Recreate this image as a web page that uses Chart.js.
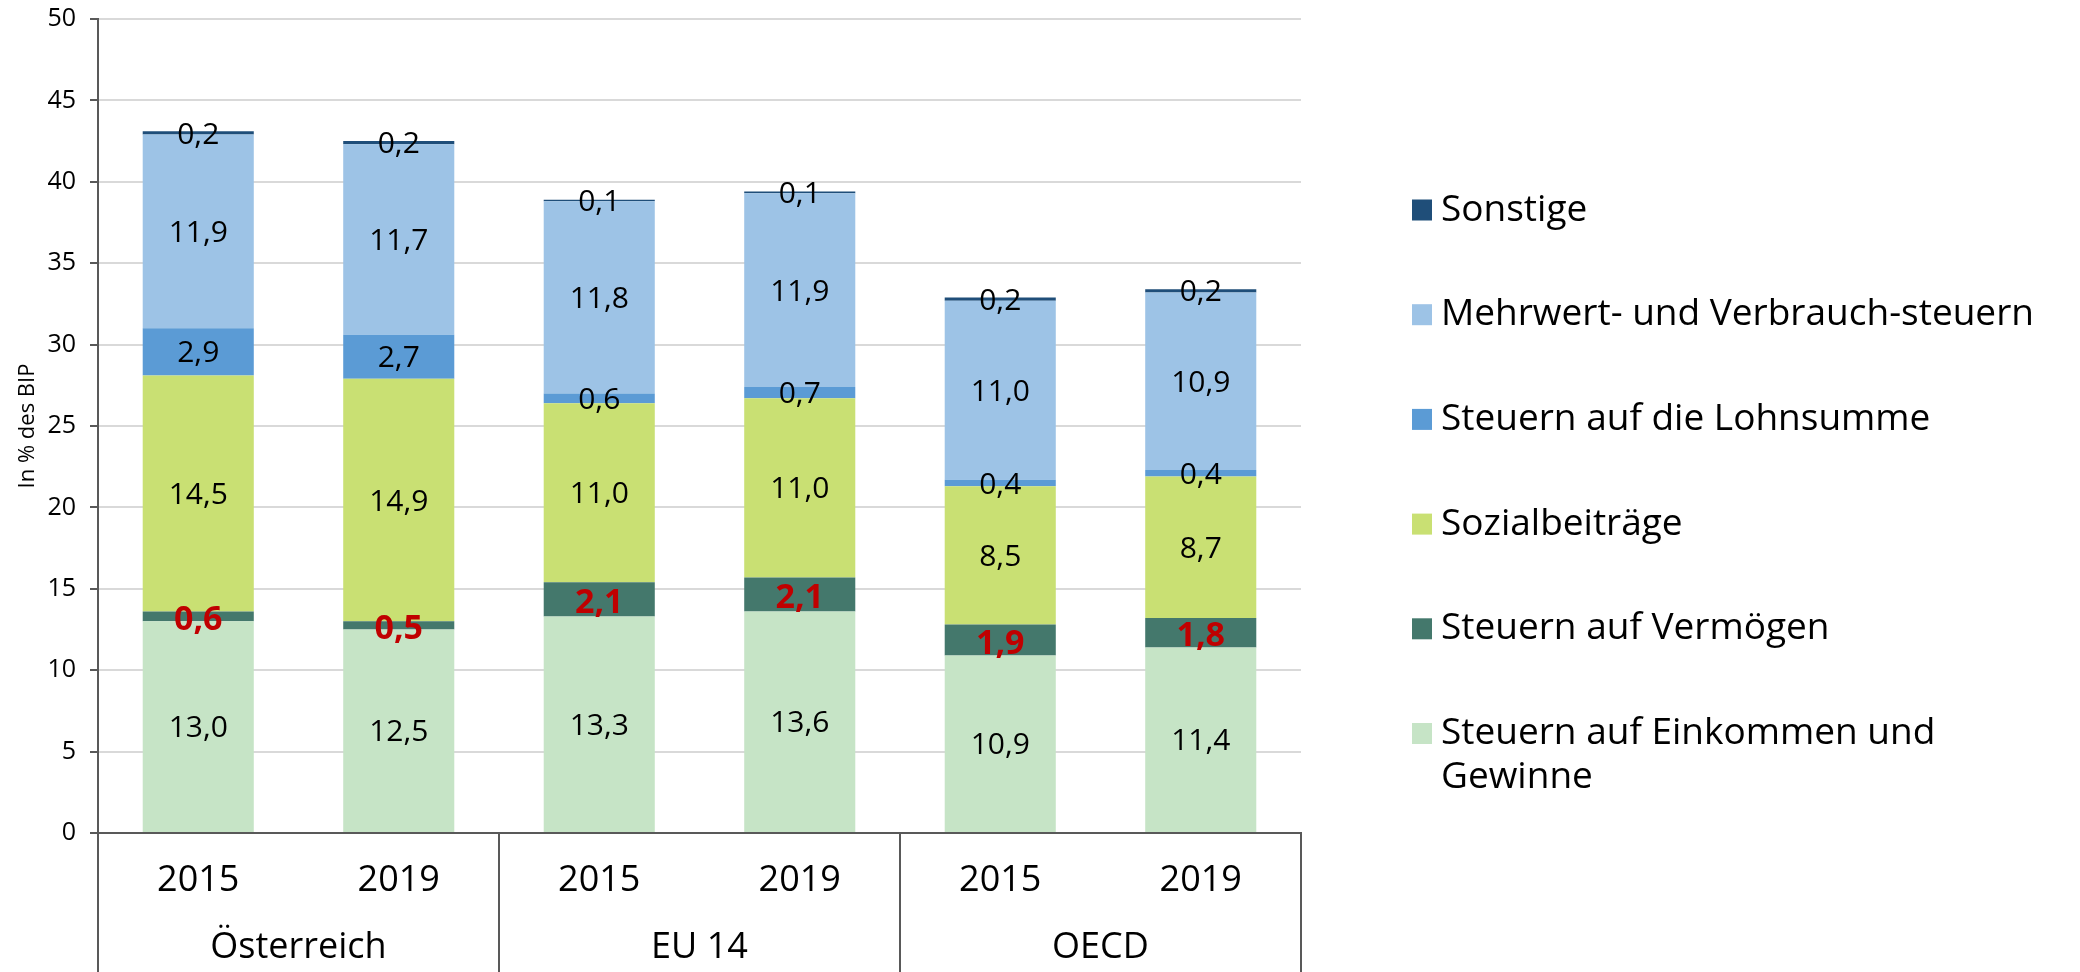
<!DOCTYPE html>
<html>
<head>
<meta charset="utf-8">
<script src="https://cdn.jsdelivr.net/npm/chart.js@4.4.1/dist/chart.umd.min.js"></script>
<style>
  html, body { margin: 0; padding: 0; background: #fff; }
  #wrap { width: 2080px; height: 972px; }
</style>
</head>
<body>
<div id="wrap"><canvas id="chart" width="2080" height="972"></canvas></div>
<script>
// categories
const years = ['2015', '2019', '2015', '2019', '2015', '2019'];
const groups = ['Österreich', 'EU 14', 'OECD'];

// series values, in % des BIP (bottom to top of the stack)
const einkommen = [13.0, 12.5, 13.3, 13.6, 10.9, 11.4];
const vermoegen = [0.6, 0.5, 2.1, 2.1, 1.9, 1.8];
const sozial    = [14.5, 14.9, 11.0, 11.0, 8.5, 8.7];
const lohnsumme = [2.9, 2.7, 0.6, 0.7, 0.4, 0.4];
const mehrwert  = [11.9, 11.7, 11.8, 11.9, 11.0, 10.9];
const sonstige  = [0.2, 0.2, 0.1, 0.1, 0.2, 0.2];

const FONT = "'Open Sans', sans-serif";
Chart.defaults.font.family = FONT;

const fmt = v => v.toFixed(1).replace('.', ',');

// value labels inside the segments
const valueLabels = {
    id: 'valueLabels',
    afterDatasetsDraw(chart) {
        const ctx = chart.ctx;
        ctx.save();
        ctx.textAlign = 'center';
        ctx.textBaseline = 'middle';
        chart.data.datasets.forEach((ds, i) => {
            const meta = chart.getDatasetMeta(i);
            meta.data.forEach((bar, j) => {
                const p = bar.getProps(['x', 'y', 'base'], true);
                const cy = (p.y + p.base) / 2;
                if (ds.highlight) {
                    ctx.font = 'bold 34px ' + FONT;
                    ctx.fillStyle = '#C00000';
                    ctx.fillText(fmt(ds.data[j]), p.x, cy + 4);
                } else {
                    ctx.font = '30px ' + FONT;
                    ctx.fillStyle = '#000';
                    ctx.fillText(fmt(ds.data[j]), p.x, cy + 2);
                }
            });
        });
        ctx.restore();
    }
};

// two-level category axis + legend on the right
const decorations = {
    id: 'decorations',
    afterDraw(chart) {
        const ctx = chart.ctx;
        const area = chart.chartArea;
        const xs = chart.scales.x;
        const bottom = chart.height;
        ctx.save();

        // axis lines below the plot
        ctx.strokeStyle = '#595959';
        ctx.lineWidth = 2;
        const seps = [area.left];
        for (let g = 1; g < groups.length; g++) {
            seps.push((xs.getPixelForValue(g * 2 - 1) + xs.getPixelForValue(g * 2)) / 2);
        }
        seps.push(area.right);
        seps.forEach(x => {
            ctx.beginPath();
            ctx.moveTo(Math.round(x), area.bottom);
            ctx.lineTo(Math.round(x), bottom);
            ctx.stroke();
        });

        ctx.fillStyle = '#000';
        ctx.textAlign = 'center';
        ctx.textBaseline = 'middle';
        ctx.font = '36px ' + FONT;
        years.forEach((y, i) => {
            ctx.fillText(y, xs.getPixelForValue(i), area.bottom + 48);
        });
        groups.forEach((g, i) => {
            const x = (seps[i] + seps[i + 1]) / 2;
            ctx.fillText(g, x, area.bottom + 115);
        });

        // legend
        ctx.textAlign = 'left';
        ctx.font = '37px ' + FONT;
        const dsList = chart.data.datasets.slice().reverse();
        const rowStart = 210;
        const rowStep = 104.7;
        const textX = 1441;
        const maxW = 2080 - textX - 15;
        dsList.forEach((ds, k) => {
            const cy = rowStart + k * rowStep;
            ctx.fillStyle = ds.backgroundColor;
            ctx.fillRect(1412, cy - 10.5, 20, 21);
            ctx.fillStyle = '#000';
            // wrap long labels
            const words = ds.label.split(' ');
            const lines = [];
            let line = '';
            words.forEach(w => {
                const test = line ? line + ' ' + w : w;
                if (ctx.measureText(test).width > maxW && line) {
                    lines.push(line);
                    line = w;
                } else {
                    line = test;
                }
            });
            lines.push(line);
            lines.forEach((l, n) => ctx.fillText(l, textX, cy + n * 44));
        });

        ctx.restore();
    }
};

const ctx = document.getElementById('chart').getContext('2d');
new Chart(ctx, {
    type: 'bar',
    data: {
        labels: years,
        datasets: [
            { label: 'Steuern auf Einkommen und Gewinne', data: einkommen, backgroundColor: '#C6E4C6' },
            { label: 'Steuern auf Vermögen', data: vermoegen, backgroundColor: '#44786C', highlight: true },
            { label: 'Sozialbeiträge', data: sozial, backgroundColor: '#C9E073' },
            { label: 'Steuern auf die Lohnsumme', data: lohnsumme, backgroundColor: '#5B9BD5' },
            { label: 'Mehrwert- und Verbrauch-steuern', data: mehrwert, backgroundColor: '#9DC3E6' },
            { label: 'Sonstige', data: sonstige, backgroundColor: '#1F4E79' }
        ]
    },
    options: {
        responsive: false,
        animation: false,
        categoryPercentage: 1,
        barPercentage: 0.554,
        layout: { padding: { top: 19, right: 779, bottom: 0, left: 0 } },
        plugins: {
            legend: { display: false },
            tooltip: { enabled: false }
        },
        scales: {
            x: {
                stacked: true,
                grid: { display: false, drawTicks: false },
                border: { display: true, color: '#595959', width: 2 },
                ticks: { display: false },
                afterFit: s => { s.height = 139; }
            },
            y: {
                stacked: true,
                min: 0,
                max: 50,
                ticks: { stepSize: 5, color: '#000', padding: 14, font: { size: 25 } },
                grid: { color: '#D9D9D9', lineWidth: 2, tickLength: 8, tickColor: '#595959' },
                border: { color: '#595959', width: 2 },
                title: {
                    display: true,
                    text: 'In % des BIP',
                    color: '#000',
                    font: { size: 22 },
                    padding: { top: 15, bottom: 0 }
                },
                afterFit: s => {
                    s.width = 98;
                    s.paddingTop = 0;
                    s.paddingBottom = 0;
                }
            }
        }
    },
    plugins: [valueLabels, decorations]
});
</script>
</body>
</html>
